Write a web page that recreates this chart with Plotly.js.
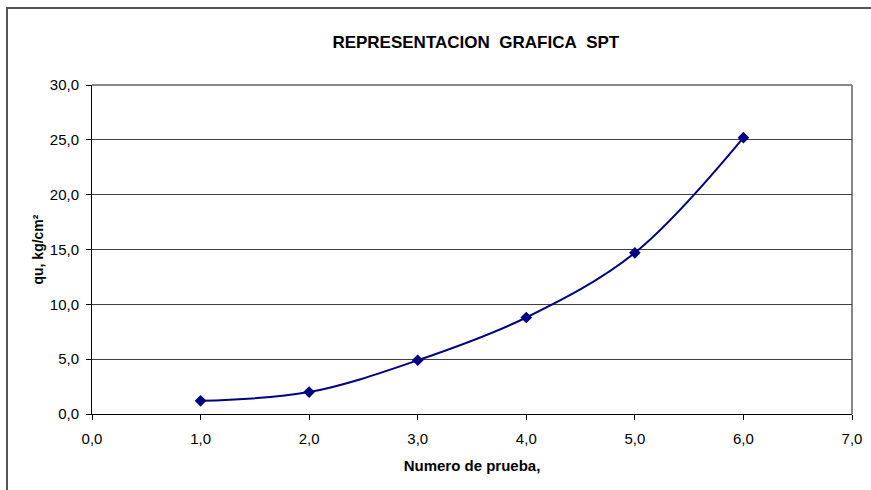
<!DOCTYPE html>
<html>
<head>
<meta charset="utf-8">
<script src="https://cdn.plot.ly/plotly-3.0.1.min.js"></script>
<style>
  html, body { margin: 0; padding: 0; background: #fff; }
  #wrap { position: relative; width: 871px; height: 490px; overflow: hidden; }
  #chart { position: absolute; left: 0; top: 0; width: 871px; height: 490px; }
  #frame { position: absolute; left: 6px; top: 7px; width: 900px; height: 520px;
           border-left: 2px solid #555; border-top: 2px solid #555; pointer-events: none; }
</style>
</head>
<body>
<div id="wrap">
  <div id="chart"></div>
  <div id="frame"></div>
</div>
<script>
const pruebas = [1, 2, 3, 4, 5, 6];
const qu = [1.2, 2.0, 4.9, 8.8, 14.7, 25.2];
const chartTitle = "REPRESENTACION&nbsp; GRAFICA&nbsp; SPT";
const xTitle = "Numero de prueba,";
const yTitle = "qu, kg/cm²";

const trace = {
  x: pruebas,
  y: qu,
  type: "scatter",
  mode: "lines+markers",
  line: { color: "#000080", width: 2, shape: "spline", smoothing: 1 },
  marker: { symbol: "diamond", size: 9, color: "#000080" },
  hoverinfo: "skip"
};

const font = "Liberation Sans, Arial, sans-serif";

const layout = {
  width: 871,
  height: 490,
  margin: { l: 92, r: 19, t: 85, b: 76 },
  paper_bgcolor: "#ffffff",
  plot_bgcolor: "#ffffff",
  separators: ",.",
  showlegend: false,
  font: { family: font, color: "#000", size: 15 },
  title: {
    text: chartTitle,
    font: { family: font, size: 17, color: "#000", weight: "bold" },
    x: 0.505, xref: "paper", xanchor: "center",
    y: 40, yref: "container", yanchor: "middle"
  },
  xaxis: {
    range: [0, 7],
    tickvals: [0, 1, 2, 3, 4, 5, 6, 7],
    tickformat: ".1f",
    ticks: "outside",
    ticklen: 5,
    tickcolor: "#000",
    showline: true,
    linecolor: "#000",
    linewidth: 1,
    showgrid: false,
    zeroline: false,
    tickfont: { family: font, size: 15, color: "#000" },
    ticklabelstandoff: 6,
    title: { text: xTitle, font: { family: font, size: 15, color: "#000", weight: "bold" }, standoff: 14 }
  },
  yaxis: {
    range: [0, 30],
    tickvals: [0, 5, 10, 15, 20, 25, 30],
    tickformat: ".1f",
    ticks: "outside",
    ticklen: 5,
    tickcolor: "#000",
    showline: true,
    linecolor: "#000",
    linewidth: 1,
    showgrid: true,
    gridcolor: "#404040",
    gridwidth: 1,
    zeroline: false,
    tickfont: { family: font, size: 15, color: "#000" },
    ticklabelstandoff: 4,
    title: { text: yTitle, font: { family: font, size: 14, color: "#000", weight: "bold" }, standoff: 2 }
  },
  shapes: [
    { type: "line", xref: "paper", yref: "paper", x0: 1, x1: 1, y0: 0, y1: 1,
      line: { color: "#888", width: 2 }, layer: "below" },
    { type: "line", xref: "paper", yref: "paper", x0: 0, x1: 1, y0: 1, y1: 1,
      line: { color: "#888", width: 2 }, layer: "below" }
  ]
};

Plotly.newPlot("chart", [trace], layout, { staticPlot: true, displayModeBar: false });
</script>
</body>
</html>
